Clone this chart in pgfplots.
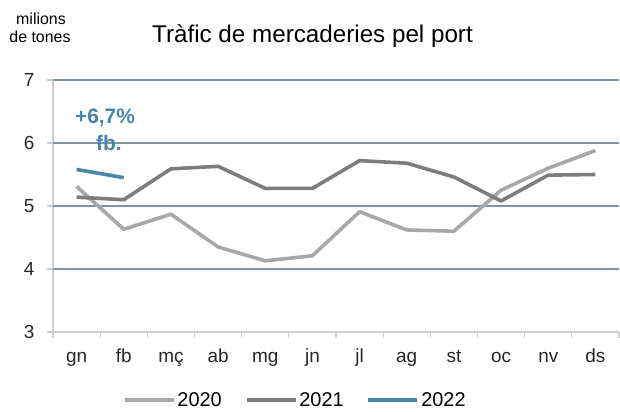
\documentclass[border=0pt]{standalone}
\usepackage{pgfplots}
\pgfplotsset{compat=1.18}
\usepackage{fontspec}
\setmainfont{Liberation Sans}

\definecolor{c2020}{RGB}{168,168,168}
\definecolor{c2021}{RGB}{125,125,125}
\definecolor{c2022}{RGB}{72,134,168}
\definecolor{gridc}{RGB}{128,148,158}
\definecolor{axisc}{RGB}{205,205,205}

\begin{document}
\begin{tikzpicture}
% page size (620 x 408)
\path (-53bp,-76bp) rectangle (567bp,332bp);
\begin{axis}[
    scale only axis,
    width=566bp,
    height=252bp,
    xmin=-0.5, xmax=11.5,
    ymin=3, ymax=7,
    ytick={3,...,7},
    xtick={0,...,11},
    xticklabels={gn,fb,mç,ab,mg,jn,jl,ag,st,oc,nv,ds},
    minor xtick={-0.5,0.5,...,11.5},
    major x tick style={draw=none},
    minor tick length=6bp,
    major tick length=6bp,
    tick align=outside,
    tick style={draw=axisc, line width=1.2bp},
    axis x line*=bottom,
    axis y line*=left,
    axis line style={draw=axisc, line width=1.5bp},
    extra y ticks={4,5,6,7},
    extra y tick labels={},
    extra y tick style={grid=major},
    grid style={draw=gridc, line width=1.2bp},
    /pgf/number format/assume math mode=true,
    tick label style={font=\fontsize{19}{19}\selectfont, text=black!85},
    yticklabel style={xshift=-9bp},
    xticklabel style={text height=14bp, text depth=4bp, yshift=-7bp},
    every axis plot/.append style={line width=3.6bp, line join=round},
    legend style={at={(0.428,-0.27)}, anchor=center, draw=none,
        font=\fontsize{20}{20}\selectfont, legend columns=3,
        /tikz/every even column/.append style={column sep=21bp}},
    legend image code/.code={\draw[#1] (0bp,0bp) -- (49bp,0bp);},
]
\addplot[c2020] coordinates {
(0,5.31) (1,4.63) (2,4.87) (3,4.35) (4,4.13) (5,4.21)
(6,4.91) (7,4.62) (8,4.60) (9,5.25) (10,5.60) (11,5.88)};
\addlegendentry{2020}
\addplot[c2021] coordinates {
(0,5.14) (1,5.10) (2,5.59) (3,5.63) (4,5.28) (5,5.28)
(6,5.72) (7,5.68) (8,5.46) (9,5.08) (10,5.49) (11,5.50)};
\addlegendentry{2021}
\addplot[c2022] coordinates {(0,5.58) (1,5.45)};
\addlegendentry{2022}
\end{axis}
\node[anchor=base, font=\fontsize{24.3}{24.3}\selectfont] at (259.5bp,289bp) {Tràfic de mercaderies pel port};
\node[anchor=base, font=\fontsize{16}{16}\selectfont] at (-12bp,307bp) {milions};
\node[anchor=base, font=\fontsize{16}{16}\selectfont] at (-13bp,289bp) {de tones};
\node[anchor=center, font=\bfseries\fontsize{21}{21}\selectfont, text=c2022] at (52bp,214bp) {+6,7\%};
\node[anchor=center, font=\bfseries\fontsize{21}{21}\selectfont, text=c2022] at (56bp,189bp) {fb.};
\end{tikzpicture}
\end{document}
